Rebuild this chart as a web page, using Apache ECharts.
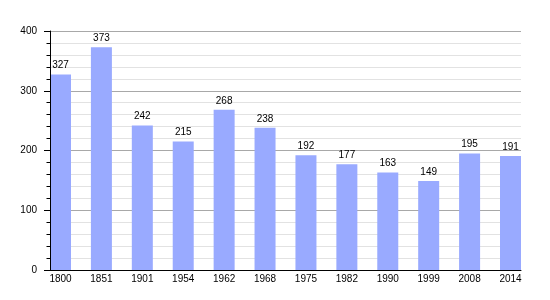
<!DOCTYPE html>
<html>
<head>
<meta charset="utf-8">
<script src="https://cdn.jsdelivr.net/npm/echarts@6/dist/echarts.min.js"></script>
<style>html,body{margin:0;padding:0;background:#fff}#c{width:550px;height:300px}</style>
</head>
<body>
<div id="c"></div>
<script>
var years = ['1800','1851','1901','1954','1962','1968','1975','1982','1990','1999','2008','2014'];
var population = [327, 373, 242, 215, 268, 238, 192, 177, 163, 149, 195, 191];
var yMin = 0, yMax = 400, yStep = 100;

var chart = echarts.init(document.getElementById('c'), null, {renderer: 'canvas'});
var font = 'Liberation Sans, Arial, sans-serif';
chart.setOption({
  animation: false,
  grid: [
    {left: 60.5, right: 39.5, top: 31, bottom: 30},
    {left: 50, right: 29, top: 31, bottom: 30}
  ],
  xAxis: [
    {gridIndex: 0, type: 'category', data: years, boundaryGap: false,
     axisLine: {show: false}, axisTick: {show: false}, splitLine: {show: false},
     axisLabel: {color: '#000', fontFamily: font, fontSize: 10, margin: 4, interval: 0}},
    {gridIndex: 1, type: 'value', min: 0, max: 1, position: 'bottom',
     axisLine: {show: true, onZero: false, lineStyle: {color: '#000', width: 1}},
     axisTick: {show: false}, axisLabel: {show: false}, splitLine: {show: false}, z: 5}
  ],
  yAxis: [
    {gridIndex: 0, type: 'value', min: yMin, max: yMax, interval: yStep, show: false},
    {gridIndex: 1, type: 'value', position: 'left', min: yMin, max: yMax, interval: yStep,
     axisLine: {show: false}, axisTick: {show: false}, axisLabel: {show: false},
     splitLine: {show: true, lineStyle: {color: '#a8a8a8', width: 1}},
     minorTick: {show: false, splitNumber: 5},
     minorSplitLine: {show: true, lineStyle: {color: '#e2e2e2', width: 1}}},
    {gridIndex: 1, type: 'value', position: 'left', offset: 0, min: yMin, max: yMax, interval: yStep, z: 5,
     axisLine: {show: true, onZero: false, lineStyle: {color: '#000', width: 1}},
     axisTick: {show: true, length: 6, lineStyle: {color: '#000'}},
     minorTick: {show: true, splitNumber: 5, length: 3.5, lineStyle: {color: '#000'}},
     splitLine: {show: false},
     axisLabel: {color: '#000', fontFamily: font, fontSize: 10, margin: 13}}
  ],
  series: [{
    type: 'bar', xAxisIndex: 0, yAxisIndex: 0, data: population,
    barWidth: 21, clip: false,
    itemStyle: {color: '#99aaff'},
    label: {show: true, position: 'top', distance: 4, color: '#000', fontFamily: font, fontSize: 10}
  }]
});
</script>
</body>
</html>
